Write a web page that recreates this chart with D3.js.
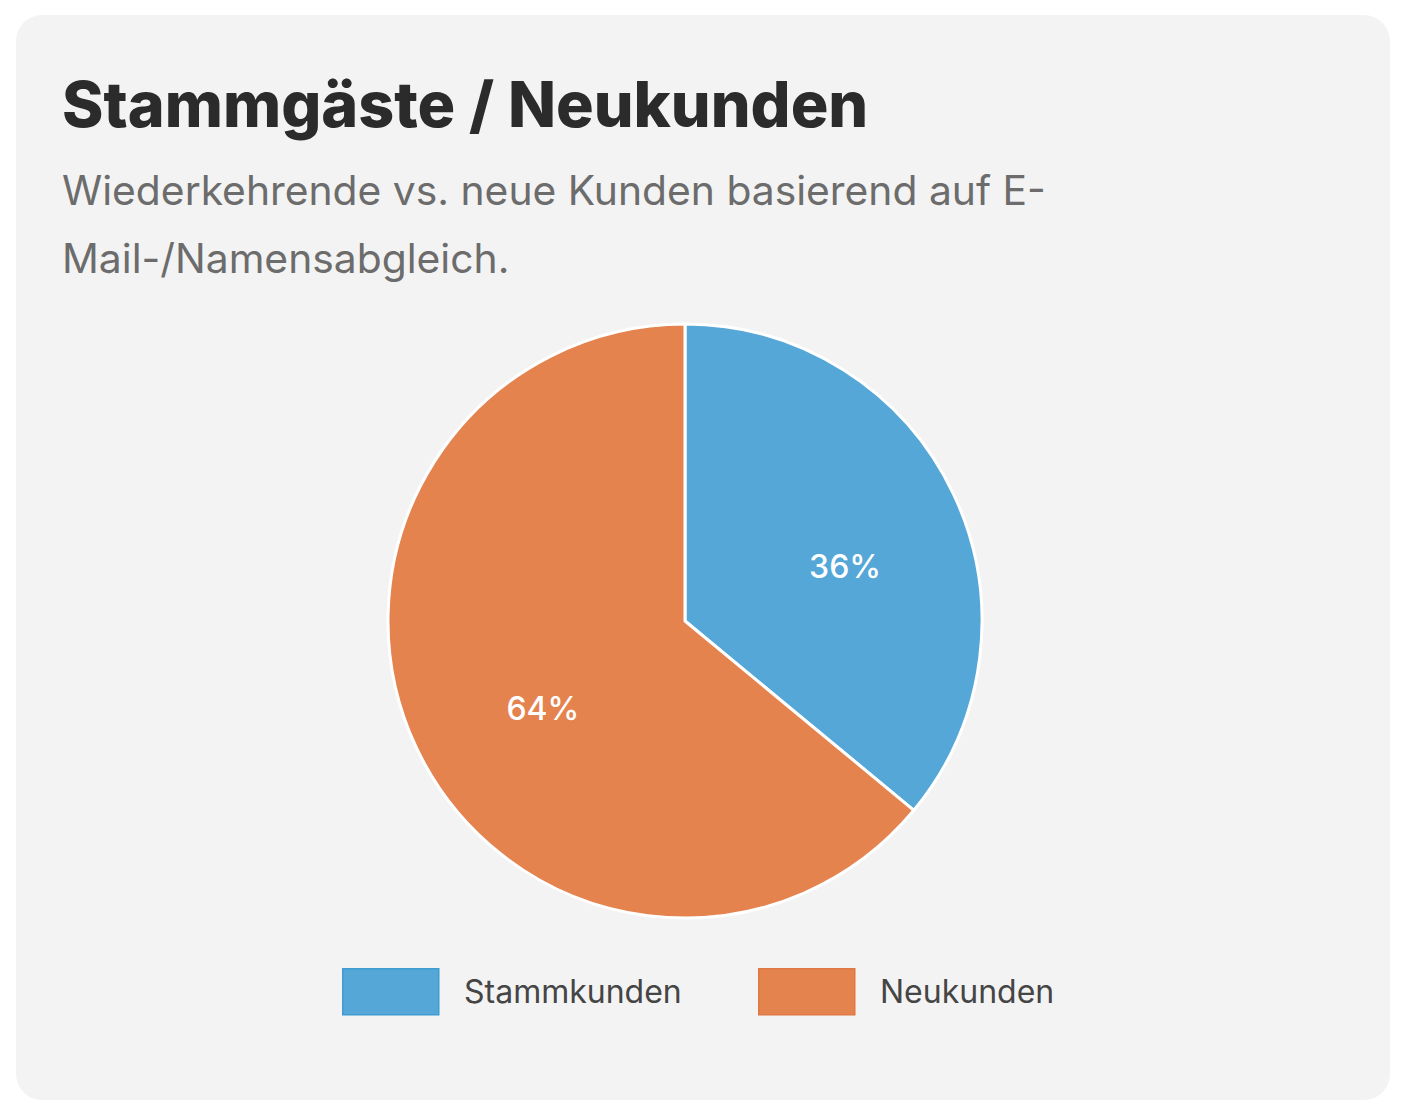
<!DOCTYPE html>
<html>
<head>
<meta charset="utf-8">
<script src="https://cdn.jsdelivr.net/npm/d3@7"></script>
<style>
  html, body { margin: 0; padding: 0; background: #fff; }
  svg { display: block; font-family: Inter, "Noto Sans", sans-serif; }
</style>
</head>
<body>
<div id="chart"></div>
<script>
// Daten
const categories = ["Stammkunden", "Neukunden"];
const shares = [36, 64];
const colors = ["#55a7d7", "#e5834f"];
const borderColors = ["#3f9bd1", "#e07843"];

const title = "Stammgäste / Neukunden";
const subtitleLines = ["Wiederkehrende vs. neue Kunden basierend auf E-", "Mail-/Namensabgleich."];

const width = 1408, height = 1117;

const svg = d3.select("#chart").append("svg")
  .attr("width", width).attr("height", height)
  .attr("viewBox", [0, 0, width, height]);

// Karte
svg.append("rect")
  .attr("x", 16).attr("y", 15)
  .attr("width", 1374).attr("height", 1085)
  .attr("rx", 26)
  .attr("fill", "#f3f3f3");

// Titel + Untertitel
svg.append("text")
  .attr("x", 62).attr("y", 127)
  .attr("font-size", 62.8).attr("font-weight", 800).attr("fill", "#2b2b2b")
  .text(title);

svg.append("text")
  .attr("font-size", 40.8).attr("fill", "#6c6c6c")
  .selectAll("tspan").data(subtitleLines).join("tspan")
  .attr("x", 62).attr("y", (d, i) => 205 + i * 68)
  .text(d => d);

// Kreisdiagramm
const cx = 685, cy = 621, r = 297;
const data = categories.map((c, i) => ({name: c, value: shares[i], color: colors[i]}));
const pie = d3.pie().value(d => d.value).sort(null);
const arc = d3.arc().innerRadius(0).outerRadius(r);
const labelArc = d3.arc().innerRadius(167).outerRadius(167);
const total = d3.sum(shares);

const g = svg.append("g").attr("transform", `translate(${cx},${cy})`);
const arcs = pie(data);

g.selectAll("path").data(arcs).join("path")
  .attr("d", arc)
  .attr("fill", d => d.data.color)
  .attr("stroke", "#ffffff").attr("stroke-width", 3)
  .attr("stroke-linejoin", "round");

// Prozentlabels, leicht nach rechts unten versetzt wie im Original
g.selectAll("text.pct").data(arcs).join("text")
  .attr("class", "pct")
  .attr("transform", d => {
    const [x, y] = labelArc.centroid(d);
    return `translate(${x + 9},${y + 17})`;
  })
  .attr("text-anchor", "middle").attr("dy", "0.35em")
  .attr("font-size", 32).attr("font-weight", 500).attr("fill", "#ffffff")
  .text(d => `${Math.round(d.data.value / total * 100)}%`);

// Legende
const legendX = [342, 758];
const legend = svg.append("g");
const items = legend.selectAll("g").data(data).join("g")
  .attr("transform", (d, i) => `translate(${legendX[i]},968)`);
items.append("rect")
  .attr("x", 0.75).attr("y", 0.75)
  .attr("width", 96).attr("height", 46)
  .attr("fill", d => d.color)
  .attr("stroke", (d, i) => borderColors[i]).attr("stroke-width", 1.5);
items.append("text")
  .attr("x", 122).attr("y", 24).attr("dy", "0.35em")
  .attr("font-size", 32).attr("fill", "#454545")
  .text(d => d.name);
</script>
</body>
</html>
